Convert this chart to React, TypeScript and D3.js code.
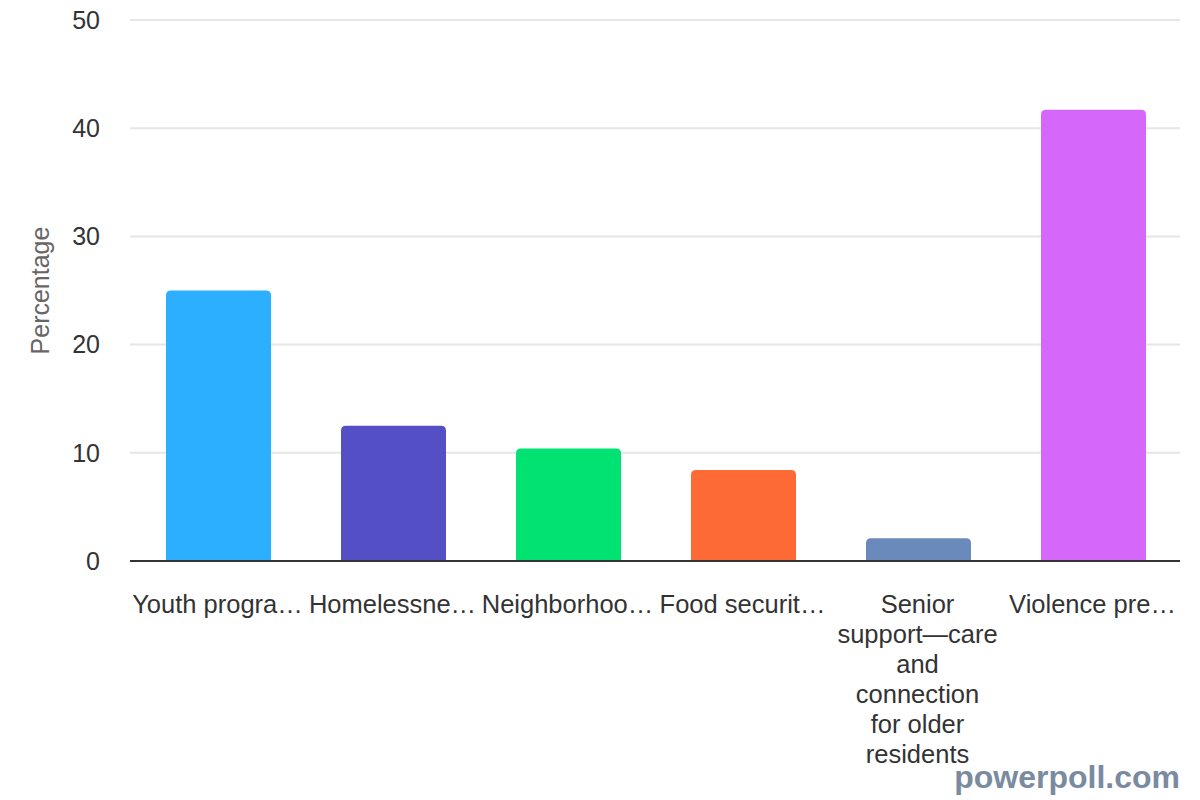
import React from "react";
import * as d3 from "d3";

const categories = [
  "Youth progra…",
  "Homelessne…",
  "Neighborhoo…",
  "Food securit…",
  "Senior\nsupport—care\nand\nconnection\nfor older\nresidents",
  "Violence pre…",
];
const values = [25.0, 12.5, 10.4, 8.4, 2.1, 41.7];
const colors = ["#2caffe", "#544fc5", "#00e272", "#fe6a35", "#6b8abc", "#d568fb"];
const yTicks = [0, 10, 20, 30, 40, 50];

const W = 1200;
const H = 800;
const left = 130;
const right = 1180;
const top = 20;
const bottom = 561;
const FONT = "Arial, 'Liberation Sans', Helvetica, sans-serif";

function topRoundedRect(x: number, y: number, w: number, h: number, r: number) {
  const rr = Math.min(r, h, w / 2);
  return `M${x},${y + h}V${y + rr}Q${x},${y} ${x + rr},${y}H${x + w - rr}Q${x + w},${y} ${x + w},${y + rr}V${y + h}Z`;
}

export default function App() {
  const x = d3.scaleBand<string>().domain(categories).range([left, right]).paddingInner(0.4).paddingOuter(0.2);
  const y = d3.scaleLinear().domain([0, 50]).range([bottom, top]);

  return (
    <svg width={W} height={H} style={{ position: "absolute", left: 0, top: 0, background: "#fff" }} fontFamily={FONT}>
      {yTicks.filter((t) => t > 0).map((t) => (
        <line key={t} x1={left} x2={right} y1={y(t)} y2={y(t)} stroke="#e6e6e6" strokeWidth={2} />
      ))}
      {yTicks.map((t) => (
        <text key={"l" + t} x={100} y={y(t)} dy="0.35em" textAnchor="end" fontSize={25} fill="#333">
          {t}
        </text>
      ))}
      <text
        transform={`translate(49,${(top + bottom) / 2}) rotate(-90)`}
        textAnchor="middle"
        fontSize={25}
        fill="#666"
      >
        Percentage
      </text>
      {categories.map((c, i) => {
        const bx = x(c)!;
        const bw = x.bandwidth();
        const by = y(values[i]);
        return <path key={c} d={topRoundedRect(bx + 1, by, bw, bottom - by, 5)} fill={colors[i]} />;
      })}
      <line x1={left} x2={right} y1={bottom} y2={bottom} stroke="#333" strokeWidth={2} />
      {categories.map((c) => {
        const cx = x(c)! + x.bandwidth() / 2;
        const lines = c.split("\n");
        return (
          <text key={"c" + c} x={cx} y={613} textAnchor="middle" fontSize={25.5} fill="#333">
            {lines.map((ln, j) => (
              <tspan key={j} x={cx} dy={j === 0 ? 0 : 30}>
                {ln}
              </tspan>
            ))}
          </text>
        );
      })}
      <text x={1180} y={788} textAnchor="end" fontSize={32} fontWeight="bold" fill="#7a8ba0">
        powerpoll.com
      </text>
    </svg>
  );
}
